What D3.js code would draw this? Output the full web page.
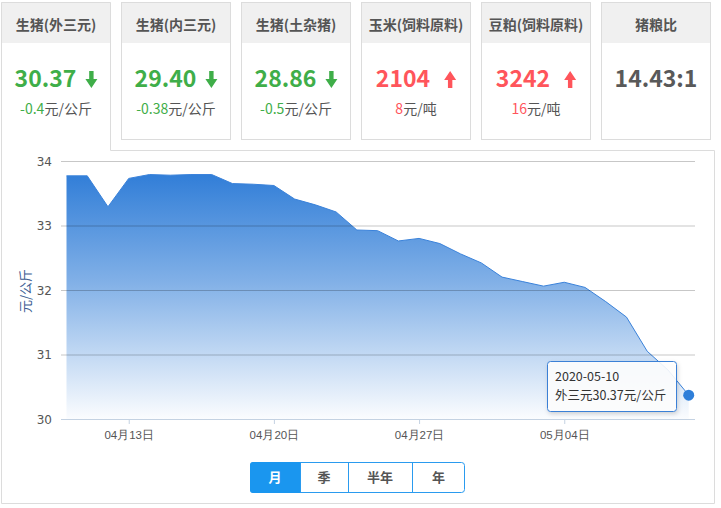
<!DOCTYPE html>
<html><head><meta charset="utf-8">
<script src="https://cdn.jsdelivr.net/npm/d3@7"></script>
<style>
html,body{margin:0;padding:0;background:#fff;}
svg{display:block;font-family:"Noto Sans CJK SC","Noto Sans",sans-serif;}
</style></head>
<body><svg id="c" width="721" height="508"></svg>
<script>
// ---- data ----
const cardTitles = ["生猪(外三元)","生猪(内三元)","生猪(土杂猪)","玉米(饲料原料)","豆粕(饲料原料)","猪粮比"];
const cardValues = ["30.37","29.40","28.86","2104","3242","14.43:1"];
const cardChanges = ["-0.4","-0.38","-0.5","8","16",""];
const cardUnits = ["元/公斤","元/公斤","元/公斤","元/吨","元/吨",""];
const cardTrend = ["down","down","down","up","up","none"];

const dates = ["2020-04-10","2020-04-11","2020-04-12","2020-04-13","2020-04-14","2020-04-15","2020-04-16","2020-04-17","2020-04-18","2020-04-19","2020-04-20","2020-04-21","2020-04-22","2020-04-23","2020-04-24","2020-04-25","2020-04-26","2020-04-27","2020-04-28","2020-04-29","2020-04-30","2020-05-01","2020-05-02","2020-05-03","2020-05-04","2020-05-05","2020-05-06","2020-05-07","2020-05-08","2020-05-09","2020-05-10"];
const prices = [33.77,33.77,33.29,33.73,33.79,33.78,33.79,33.79,33.65,33.64,33.62,33.41,33.32,33.21,32.93,32.92,32.76,32.80,32.72,32.56,32.42,32.20,32.13,32.06,32.12,32.04,31.82,31.58,31.05,30.76,30.37];
const yTicks = [30,31,32,33,34];
const xTickDates = ["2020-04-13","2020-04-20","2020-04-27","2020-05-04"];
const yTitle = "元/公斤";
const tipSeries = "外三元";
const periods = ["月","季","半年","年"];

// ---- drawing ----
const svg = d3.select("#c");
const parse = d3.timeParse("%Y-%m-%d");
const GREEN = "#3fae49", RED = "#ff555b", GRAY = "#555", BORDER = "#dcdcdc";

// defs
const defs = svg.append("defs");
const grad = defs.append("linearGradient").attr("id","ag").attr("gradientUnits","userSpaceOnUse")
  .attr("x1",0).attr("x2",0).attr("y1",170).attr("y2",419);
grad.append("stop").attr("offset","0").attr("stop-color","#2e7cd7").attr("stop-opacity",1);
grad.append("stop").attr("offset","0.45").attr("stop-color","#2e7cd7").attr("stop-opacity",0.6);
grad.append("stop").attr("offset","1").attr("stop-color","#2e7cd7").attr("stop-opacity",0.02);
const flt = defs.append("filter").attr("id","sh").attr("x","-20%").attr("y","-20%").attr("width","140%").attr("height","150%");
flt.append("feDropShadow").attr("dx",1).attr("dy",2).attr("stdDeviation",2).attr("flood-color","#000").attr("flood-opacity",0.18);

// panel border (active tab opens into it)
svg.append("path")
  .attr("d","M110.5,150.5 H714.5 V503.5 H1.5 V2.5 H110.5 Z")
  .attr("fill","none").attr("stroke",BORDER);

// cards
cardTitles.forEach((t,i)=>{
  const x0 = 1 + i*120, w = 109, cx = x0 + 55;
  const g = svg.append("g");
  g.append("rect").attr("x",x0+1).attr("y",3).attr("width",w-1).attr("height",40).attr("fill","#f0f0f0");
  if(i>0){
    g.append("rect").attr("x",x0+0.5).attr("y",2.5).attr("width",w).attr("height",137)
      .attr("fill","none").attr("stroke",BORDER);
  } else {
    g.append("line").attr("x1",x0+0.5).attr("x2",x0+w+0.5).attr("y1",2.5).attr("y2",2.5).attr("stroke",BORDER);
  }
  g.append("text").attr("x",cx).attr("y",30).attr("text-anchor","middle")
    .attr("font-size",14).attr("font-weight",700).attr("fill",GRAY).text(t);
  const col = cardTrend[i]==="down"?GREEN:(cardTrend[i]==="up"?RED:"#595959");
  const vt = g.append("text").attr("y",87).attr("font-size",23).attr("font-weight",700)
    .attr("fill",col).text(cardValues[i]);
  const tw = vt.node().getComputedTextLength();
  if(cardTrend[i]==="none"){
    vt.attr("x",cx - tw/2);
  } else {
    const gap = cardTrend[i]==="down"?9:14, aw = 12;
    const sx = cx - (tw+gap+aw)/2;
    vt.attr("x",sx);
    const ax = sx + tw + gap + aw/2;
    const p = cardTrend[i]==="down"
      ? `M${ax-2.2},71 H${ax+2.2} V79 H${ax+6} L${ax},88 L${ax-6},79 H${ax-2.2} Z`
      : `M${ax-2.2},88 H${ax+2.2} V80 H${ax+6} L${ax},71 L${ax-6},80 H${ax-2.2} Z`;
    g.append("path").attr("d",p).attr("fill",col);
  }
  if(cardChanges[i]!==""){
    const st = g.append("text").attr("x",cx).attr("y",114).attr("text-anchor","middle").attr("font-size",14);
    st.append("tspan").attr("fill",col).text(cardChanges[i]);
    st.append("tspan").attr("fill",GRAY).text(cardUnits[i]);
  }
});

// chart scales
const x = d3.scaleTime().domain([parse(dates[0]), parse(dates[dates.length-1])]).range([66.5, 688.7]);
const y = d3.scaleLinear().domain([30,34]).range([419,161]);
const data = dates.map((d,i)=>({d:parse(d), v:prices[i]}));

// area
svg.append("path").datum(data)
  .attr("d", d3.area().x(d=>x(d.d)).y0(y(30)).y1(d=>y(d.v)))
  .attr("fill","url(#ag)");
svg.append("path").datum(data)
  .attr("d", d3.line().x(d=>x(d.d)).y(d=>y(d.v)))
  .attr("fill","none").attr("stroke","#3a82da").attr("stroke-width",1);

// y grid (no labels)
const ya = svg.append("g").attr("transform","translate(61,0)")
  .call(d3.axisLeft(y).tickValues(yTicks.slice(1)).tickSize(-634).tickFormat(""));
ya.select(".domain").remove();
ya.selectAll("text").remove();
ya.selectAll(".tick line").attr("stroke","rgba(0,0,0,0.22)").attr("stroke-width",1);
// y labels
const yl = svg.append("g").attr("transform","translate(61,0)")
  .call(d3.axisLeft(y).tickValues(yTicks).tickSize(0).tickPadding(9).tickFormat(d3.format("d")));
yl.select(".domain").remove();
yl.selectAll("line").remove();
yl.selectAll("text").attr("font-size",12).attr("fill","#555").attr("font-family","\"DejaVu Sans\",sans-serif").attr("dy","0.35em");

// x axis
const xa = svg.append("g").attr("transform",`translate(0,${y(30)})`)
  .call(d3.axisBottom(x).tickValues(xTickDates.map(parse)).tickSize(5).tickPadding(5).tickFormat(d3.timeFormat("%m月%d日")));
xa.select(".domain").attr("d","M61,0.5H695").attr("stroke","#c4d2e2");
xa.selectAll(".tick line").attr("stroke","#c4d2e2");
xa.selectAll("text").attr("font-size",11.5).attr("fill","#555").attr("dy","0.85em");

// y title
svg.append("text").attr("transform","translate(30,291) rotate(-90)").attr("text-anchor","middle")
  .attr("font-size",13).attr("fill","#3d5d92").text(yTitle);

// last point + tooltip
const last = data[data.length-1];
svg.append("circle").attr("cx",x(last.d)).attr("cy",y(last.v)).attr("r",5.5).attr("fill","#2f7fd9");
const tip = svg.append("g");
tip.append("rect").attr("x",547.5).attr("y",361.5).attr("width",129).attr("height",50).attr("rx",3)
  .attr("fill","rgba(255,255,255,0.88)").attr("stroke","#3a80d6").attr("filter","url(#sh)");
tip.append("text").attr("x",555).attr("y",381).attr("font-size",12.5).attr("fill","#333").text(dates[dates.length-1]);
tip.append("text").attr("x",555).attr("y",399.5).attr("font-size",12.5).attr("fill","#333")
  .text(tipSeries + last.v.toFixed(2) + yTitle);

// period buttons
const bx = [250,300,348,412,465];
const bg = svg.append("g");
bg.append("rect").attr("x",250.5).attr("y",462.5).attr("width",214).attr("height",30).attr("rx",3)
  .attr("fill","#fff").attr("stroke","#2a9bef");
periods.forEach((p,i)=>{
  if(i===0){
    bg.append("path").attr("d",`M${bx[1]},462 V493 H253 Q250,493 250,490 V465 Q250,462 253,462 Z`).attr("fill","#1a96ef");
  } else {
    bg.append("line").attr("x1",bx[i]+0.5).attr("x2",bx[i]+0.5).attr("y1",462.5).attr("y2",492.5).attr("stroke","#2a9bef");
  }
  bg.append("text").attr("x",(bx[i]+bx[i+1])/2).attr("y",482).attr("text-anchor","middle")
    .attr("font-size",13).attr("font-weight",700).attr("fill",i===0?"#fff":"#555").text(p);
});
</script></body></html>
